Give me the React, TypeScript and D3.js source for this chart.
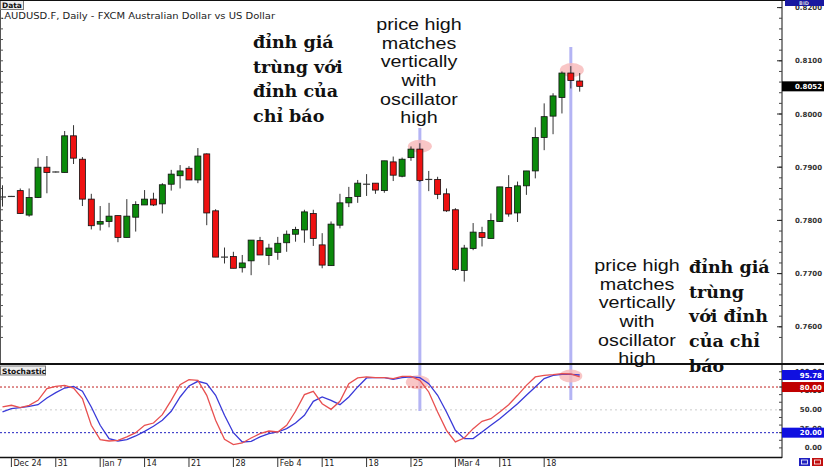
import React from "react";
import * as d3 from "d3";

const W = 824;
const H = 467;

// Daily AUD/USD candles, Dec 21 2012 – Mar 22 2013 (trading days)
const opens = [0.7844,0.7845,0.7856,0.7810,0.7843,0.7900,0.7891,0.7890,0.7959,0.7915,0.7840,0.7793,0.7798,0.7809,0.7768,0.7806,0.7829,0.7840,0.7831,0.7868,0.7884,0.7898,0.7876,0.7925,0.7818,0.7731,0.7732,0.7711,0.7724,0.7762,0.7734,0.7740,0.7758,0.7774,0.7782,0.7813,0.7754,0.7715,0.7791,0.7833,0.7845,0.7868,0.7870,0.7856,0.7910,0.7883,0.7918,0.7934,0.7877,0.7877,0.7850,0.7820,0.7706,0.7747,0.7777,0.7766,0.7798,0.7862,0.7814,0.7865,0.7893,0.7956,0.7996,0.8031,0.8077,0.8062];
const highs = [0.7866,0.7846,0.7860,0.7860,0.7917,0.7921,0.7892,0.7968,0.7979,0.7919,0.7850,0.7827,0.7833,0.7809,0.7840,0.7836,0.7857,0.7852,0.7870,0.7895,0.7904,0.7902,0.7936,0.7926,0.7821,0.7749,0.7741,0.7735,0.7763,0.7769,0.7756,0.7769,0.7781,0.7788,0.7820,0.7820,0.7776,0.7798,0.7850,0.7863,0.7876,0.7887,0.7870,0.7912,0.7920,0.7918,0.7939,0.7945,0.7893,0.7882,0.7860,0.7823,0.7754,0.7795,0.7788,0.7813,0.7863,0.7885,0.7873,0.7893,0.7975,0.8020,0.8039,0.8080,0.8090,0.8077];
const lows = [0.7826,0.7844,0.7812,0.7807,0.7842,0.7851,0.7890,0.7890,0.7906,0.7827,0.7783,0.7781,0.7787,0.7759,0.7768,0.7779,0.7829,0.7827,0.7813,0.7856,0.7860,0.7876,0.7870,0.7791,0.7731,0.7719,0.7710,0.7702,0.7697,0.7735,0.7716,0.7726,0.7741,0.7760,0.7758,0.7752,0.7710,0.7715,0.7785,0.7825,0.7833,0.7846,0.7850,0.7852,0.7874,0.7881,0.7912,0.7872,0.7855,0.7840,0.7816,0.7705,0.7685,0.7744,0.7751,0.7766,0.7797,0.7807,0.7797,0.7848,0.7879,0.7932,0.7962,0.8001,0.8048,0.8042];
const closes = [0.7844,0.7845,0.7813,0.7843,0.7900,0.7890,0.7891,0.7959,0.7917,0.7840,0.7790,0.7798,0.7808,0.7768,0.7808,0.7830,0.7840,0.7829,0.7867,0.7887,0.7893,0.7876,0.7921,0.7814,0.7731,0.7731,0.7710,0.7720,0.7763,0.7735,0.7748,0.7757,0.7774,0.7783,0.7816,0.7766,0.7716,0.7793,0.7833,0.7843,0.7870,0.7868,0.7857,0.7912,0.7885,0.7915,0.7934,0.7875,0.7877,0.7849,0.7818,0.7708,0.7748,0.7778,0.7768,0.7800,0.7863,0.7812,0.7865,0.7893,0.7956,0.7995,0.8034,0.8077,0.8063,0.8052];

// Stochastic oscillator
const stochK = [53.8,56.0,52.9,56.0,62.5,77.9,80.9,82.2,78.7,64.7,29.7,10.8,9.1,10.0,14.4,20.0,29.7,32.7,43.7,62.5,83.1,89.7,88.8,69.1,36.3,11.3,4.3,6.5,13.0,18.7,22.2,20.9,29.7,48.1,70.0,74.4,58.1,50.7,61.2,84.4,91.9,93.2,92.3,92.3,91.0,94.1,94.1,88.8,73.5,47.2,23.1,7.8,13.0,25.3,34.9,38.4,47.2,56.8,69.1,82.2,93.2,95.4,96.3,97.6,97.1,93.2];
const stochD = [47.2,51.6,52.9,54.6,56.8,65.6,72.6,78.7,80.9,74.4,53.8,29.7,12.2,9.1,10.8,15.7,21.8,28.4,36.3,48.1,66.9,81.4,87.5,84.4,69.1,42.8,20.0,7.8,8.7,14.4,18.7,20.9,25.3,32.7,42.8,61.2,66.9,62.5,56.8,66.9,80.1,91.9,92.3,92.3,90.1,92.3,93.2,92.3,84.4,69.1,47.2,23.1,12.2,12.2,20.9,29.7,38.4,48.1,58.1,69.1,80.1,91.0,95.4,96.7,96.7,95.78];

const priceTicks = [0.76, 0.77, 0.78, 0.79, 0.80, 0.81, 0.82];
const stochLabelTicks = [0, 25, 50, 75, 100];
const stochLevels = [80, 20];
const lastPrice = 0.8052;
const highlightIdx = [47, 64];

const titleText = ".AUDUSD.F, Daily - FXCM Australian Dollar vs US Dollar";
const noteEn = ["price high", "matches", "vertically", "with", "oscillator", "high"];
const noteVi1 = ["đỉnh giá", "trùng với", "đỉnh của", "chỉ báo"];
const noteVi2 = ["đỉnh giá", "trùng", "với đỉnh", "của chỉ", "báo"];

// trading days
const startDay = new Date(2012, 11, 21);
const endDay = new Date(2013, 2, 23);
const days = d3.timeDay.range(startDay, endDay).filter((d) => d.getDay() !== 0 && d.getDay() !== 6);

const AXIS_X = 782;
const GREEN = "#0b8a0b";
const RED = "#ee1111";

export default function App() {
  const n = opens.length;
  const x = d3.scaleLinear().domain([0, n - 1]).range([2.5, 2.5 + (n - 1) * 8.88]);
  const y = d3.scaleLinear().domain([0.76, 0.82]).range([326.8, 7.6]);
  const ys = d3.scaleLinear().domain([0, 100]).range([447.9, 371.8]);

  const kLine = d3.line<number>().x((_, i) => x(i)).y((v) => ys(v))(stochK) || "";
  const dLine = d3.line<number>().x((_, i) => x(i)).y((v) => ys(v))(stochD) || "";

  const minorPrice = d3.range(0.758, 0.8221, 0.002);
  const minorStoch = d3.range(0, 100.1, 10);

  const fmtDay = d3.timeFormat("%-d");
  const fmtMon = d3.timeFormat("%b %-d");
  const ticks: { i: number; label: string }[] = [];
  days.forEach((d, i) => {
    if (d.getDay() === 1) {
      ticks.push({ i, label: ticks.length === 0 || d.getDate() <= 7 ? fmtMon(d) : fmtDay(d) });
    }
  });

  const axisFont = "DejaVu Sans, Verdana, sans-serif";

  return (
    <svg width={W} height={H} style={{ position: "absolute", left: 0, top: 0, background: "#fff" }}>
      <rect x={0} y={0} width={W} height={H} fill="#fff" />

      {/* left border ticks */}
      <line x1={0.5} y1={0} x2={0.5} y2={457} stroke="#555" strokeWidth={1} />
      {minorPrice.map((p, k) => (
        <line key={"lt" + k} x1={0} x2={3} y1={y(p)} y2={y(p)} stroke="#555" strokeWidth={1} />
      ))}

      {/* highlight vertical lines */}
      <line x1={x(highlightIdx[0])} x2={x(highlightIdx[0])} y1={128} y2={411} stroke="#b4b4f4" strokeWidth={3} />
      <line x1={x(highlightIdx[1])} x2={x(highlightIdx[1])} y1={47} y2={400} stroke="#b4b4f4" strokeWidth={3} />

      {/* ellipses on price */}
      <ellipse cx={x(highlightIdx[0])} cy={y(highs[highlightIdx[0]]) + 3} rx={12} ry={6.5} fill="#f7b8b8" opacity={0.8} />
      <ellipse cx={x(highlightIdx[1]) + 1} cy={y(highs[highlightIdx[1]]) + 4} rx={12} ry={7} fill="#f7b8b8" opacity={0.8} />

      {/* candles */}
      {opens.map((o, i) => {
        const c = closes[i];
        const cx = x(i);
        const top = y(Math.max(o, c));
        const bot = y(Math.min(o, c));
        const doji = Math.abs(o - c) < 0.00005;
        return (
          <g key={"c" + i}>
            <line x1={cx} x2={cx} y1={y(highs[i])} y2={y(lows[i])} stroke="#333" strokeWidth={1} />
            {doji ? (
              <line x1={cx - 3.5} x2={cx + 3.5} y1={top} y2={top} stroke="#333" strokeWidth={1.2} />
            ) : (
              <rect x={cx - 3} y={top} width={6} height={Math.max(1, bot - top)} fill={c > o ? GREEN : RED} stroke="#111" strokeWidth={0.8} />
            )}
          </g>
        );
      })}

      {/* title and data label */}
      <rect x={0.5} y={0.5} width={23} height={9} fill="#eee" stroke="#777" strokeWidth={1} />
      <text x={2} y={8} fontFamily={axisFont} fontSize={7.5} fontWeight="bold" fill="#111">Data</text>
      <text x={1} y={18.5} fontFamily={axisFont} fontSize={9} fill="#222" textLength={274} lengthAdjust="spacingAndGlyphs">{titleText}</text>

      {/* panel separator */}
      <line x1={0} x2={W} y1={0.5} y2={0.5} stroke="#111" strokeWidth={1} />

      {/* stochastic panel */}
      <rect x={0} y={365} width={AXIS_X} height={92} fill="#fff" />
      <line x1={x(highlightIdx[0])} x2={x(highlightIdx[0])} y1={365} y2={411} stroke="#b4b4f4" strokeWidth={3} />
      <line x1={x(highlightIdx[1])} x2={x(highlightIdx[1])} y1={365} y2={400} stroke="#b4b4f4" strokeWidth={3} />
      <ellipse cx={x(highlightIdx[0]) - 2} cy={ys(stochK[highlightIdx[0]]) + 2} rx={12} ry={7} fill="#f7b8b8" opacity={0.8} />
      <ellipse cx={x(highlightIdx[1])} cy={ys(stochK[highlightIdx[1]]) + 2} rx={11.5} ry={6.5} fill="#f7b8b8" opacity={0.8} />
      <line x1={0} x2={AXIS_X} y1={ys(50)} y2={ys(50)} stroke="#ccc" strokeWidth={1} strokeDasharray="2,3" />
      <line x1={0} x2={AXIS_X} y1={ys(stochLevels[0])} y2={ys(stochLevels[0])} stroke="#c02020" strokeWidth={1} strokeDasharray="2,2" />
      <line x1={0} x2={AXIS_X} y1={ys(stochLevels[1])} y2={ys(stochLevels[1])} stroke="#2020c0" strokeWidth={1} strokeDasharray="2,2" />
      <path d={dLine} fill="none" stroke="#3a3ad8" strokeWidth={1.3} />
      <path d={kLine} fill="none" stroke="#e85050" strokeWidth={1.3} />
      <rect x={0.5} y={366} width={45} height={9} fill="#eee" stroke="#777" strokeWidth={1} />
      <text x={2} y={373.5} fontFamily={axisFont} fontSize={7.5} fontWeight="bold" fill="#111">Stochastic</text>
      <line x1={0} x2={AXIS_X} y1={457.5} y2={457.5} stroke="#111" strokeWidth={1.5} />
      <line x1={0} x2={W} y1={364} y2={364} stroke="#111" strokeWidth={2} />

      {/* right axis */}
      <line x1={AXIS_X} x2={AXIS_X} y1={0} y2={458} stroke="#111" strokeWidth={1} />
      {minorPrice.map((p, k) => (
        <line key={"pt" + k} x1={AXIS_X - 3} x2={AXIS_X} y1={y(p)} y2={y(p)} stroke="#444" strokeWidth={1} />
      ))}
      {priceTicks.map((p) => (
        <g key={"pl" + p}>
          <line x1={AXIS_X - 5} x2={AXIS_X} y1={y(p)} y2={y(p)} stroke="#222" strokeWidth={1} />
          <text x={822} y={y(p) + 2.5} textAnchor="end" fontFamily={axisFont} fontSize={7} fontWeight="bold" fill="#333">{p.toFixed(4)}</text>
        </g>
      ))}
      <rect x={785} y={0} width={39} height={6} fill="#1818a0" />
      <text x={804} y={5} textAnchor="middle" fontFamily={axisFont} fontSize={5} fontWeight="bold" fill="#ccd">BID</text>
      <rect x={AXIS_X} y={y(lastPrice) - 5} width={W - AXIS_X} height={10} fill="#000" />
      <text x={822} y={y(lastPrice) + 2.5} textAnchor="end" fontFamily={axisFont} fontSize={7} fontWeight="bold" fill="#fff">{lastPrice.toFixed(4)}</text>

      {minorStoch.map((v, k) => (
        <line key={"st" + k} x1={AXIS_X - 3} x2={AXIS_X} y1={ys(v)} y2={ys(v)} stroke="#444" strokeWidth={1} />
      ))}
      {stochLabelTicks.map((v) => (
        <text key={"sl" + v} x={822} y={ys(v) + 2.5} textAnchor="end" fontFamily={axisFont} fontSize={7} fontWeight="bold" fill="#333">{v.toFixed(2)}</text>
      ))}
      <rect x={AXIS_X} y={ys(stochD[n - 1]) - 5} width={W - AXIS_X} height={10} fill="#1010e0" />
      <text x={822} y={ys(stochD[n - 1]) + 2.5} textAnchor="end" fontFamily={axisFont} fontSize={7} fontWeight="bold" fill="#fff">{stochD[n - 1].toFixed(2)}</text>
      <rect x={AXIS_X} y={ys(stochLevels[0]) - 5} width={W - AXIS_X} height={10} fill="#c00000" />
      <text x={822} y={ys(stochLevels[0]) + 2.5} textAnchor="end" fontFamily={axisFont} fontSize={7} fontWeight="bold" fill="#fff">{stochLevels[0].toFixed(2)}</text>
      <rect x={AXIS_X} y={ys(stochLevels[1]) - 5} width={W - AXIS_X} height={10} fill="#1010e0" />
      <text x={822} y={ys(stochLevels[1]) + 2.5} textAnchor="end" fontFamily={axisFont} fontSize={7} fontWeight="bold" fill="#fff">{stochLevels[1].toFixed(2)}</text>

      {/* bottom-right buttons */}
      <rect x={799} y={458} width={11} height={8} fill="#2020c0" />
      <rect x={801.5} y={460} width={6} height={4} fill="none" stroke="#fff" strokeWidth={0.8} />
      <rect x={812} y={458} width={11} height={8} fill="#c01010" />
      <rect x={814.5} y={460} width={6} height={4} fill="none" stroke="#fff" strokeWidth={0.8} />

      {/* x axis */}
      {ticks.map((t) => (
        <g key={"xt" + t.i}>
          <line x1={x(t.i)} x2={x(t.i)} y1={458} y2={467} stroke="#333" strokeWidth={1} />
          <text x={x(t.i) + 2} y={466} fontFamily={axisFont} fontSize={8} fill="#222">{t.label}</text>
        </g>
      ))}

      {/* annotations (drawn on top) */}
      <g fontFamily="DejaVu Serif, Liberation Serif, serif" fontWeight="bold" fontSize={17.5} fill="#111">
        {noteVi1.map((t, k) => (
          <text key={"v1" + k} x={253} y={48 + k * 24.7}>{t}</text>
        ))}
        {noteVi2.map((t, k) => (
          <text key={"v2" + k} x={689} y={273 + k * 24.7}>{t}</text>
        ))}
      </g>
      <g fontFamily="Liberation Sans, Arial, sans-serif" fontSize={17} fill="#111" textAnchor="middle">
        {noteEn.map((t, k) => (
          <text key={"e1" + k} x={0} y={30 + k * 18.7} transform={`translate(419,0) scale(1.16,1)`}>{t}</text>
        ))}
        {noteEn.map((t, k) => (
          <text key={"e2" + k} x={0} y={271 + k * 18.7} transform={`translate(637,0) scale(1.16,1)`}>{t}</text>
        ))}
      </g>
    </svg>
  );
}
